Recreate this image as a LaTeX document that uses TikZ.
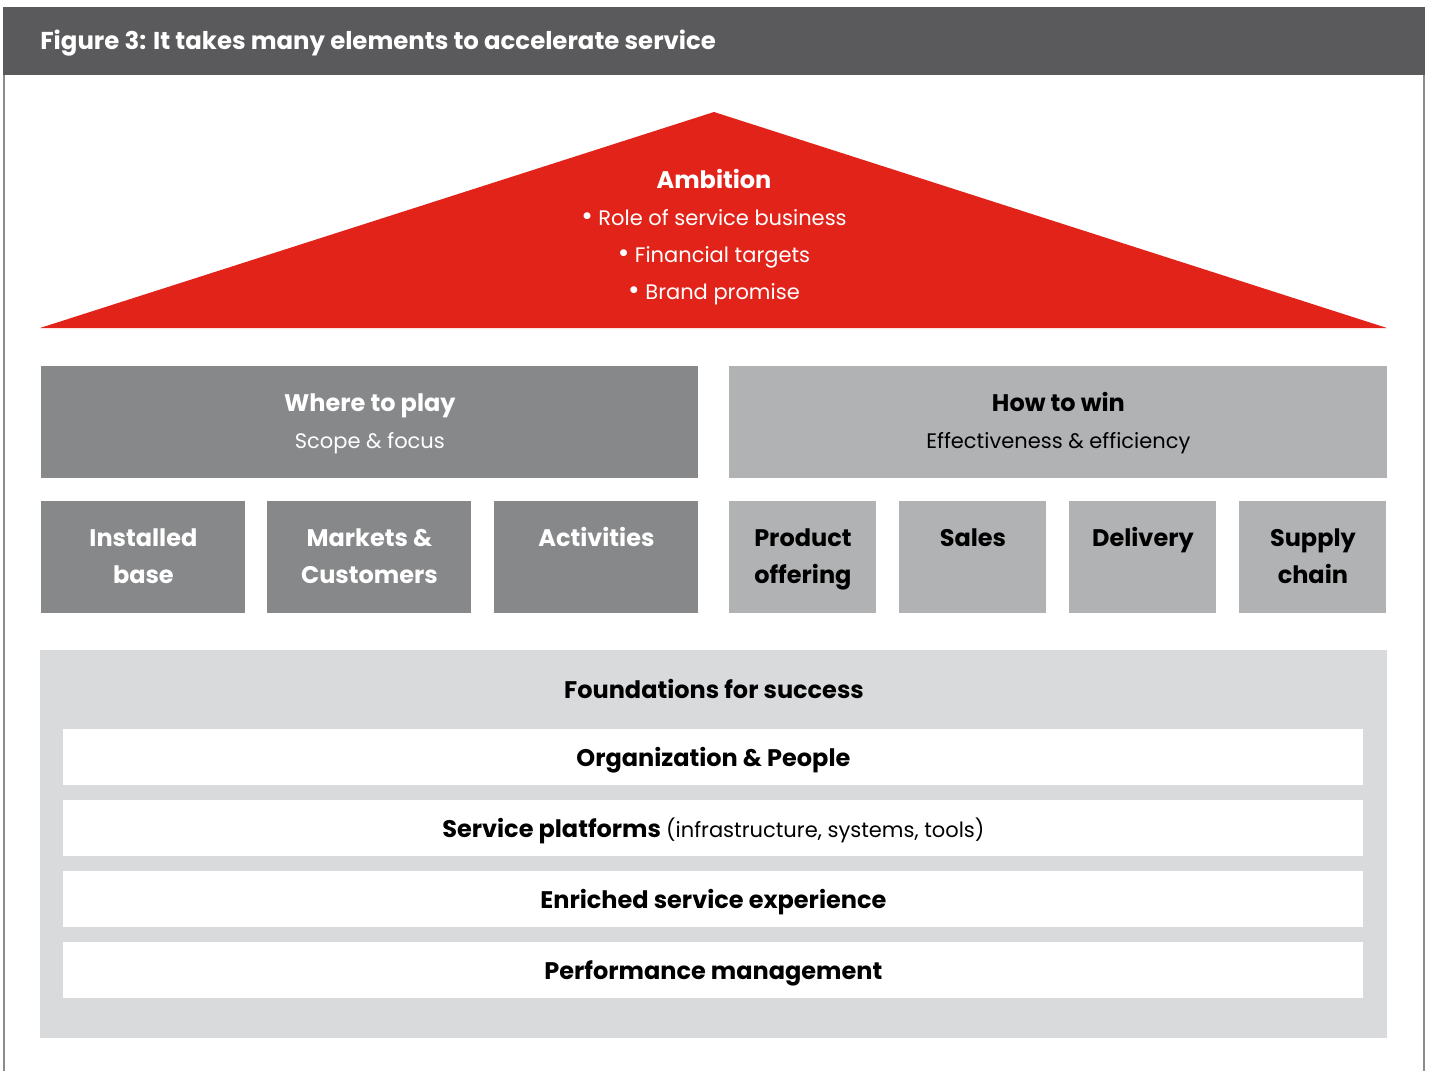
\documentclass[tikz,border=0pt]{standalone}
\usepackage{fontspec}
\setmainfont{Poppins}
\usepackage{tikz}

\definecolor{headgrey}{HTML}{5A5A5C}
\definecolor{ambred}{HTML}{E2231A}
\definecolor{darkgrey}{HTML}{87888A}
\definecolor{lightgrey}{HTML}{B1B2B4}
\definecolor{basegrey}{HTML}{D9DADB}
\definecolor{edgegrey}{HTML}{8C8C8C}

\newcommand{\plain}{\fontsize{10.5}{18.5}\selectfont\mdseries}
\newcommand{\dotitem}{{\fontsize{14}{18.5}\selectfont\textbullet}\ }

\tikzset{
    darkbox/.style={fill=darkgrey, text=white, align=center, inner sep=0pt, anchor=north west, font=\fontsize{12}{18.5}\selectfont\bfseries},
    lightbox/.style={fill=lightgrey, text=black, align=center, inner sep=0pt, anchor=north west, font=\fontsize{12}{18.5}\selectfont\bfseries},
    bar/.style={fill=white, text=black, align=center, inner sep=0pt, anchor=north west, minimum width=650pt, minimum height=28pt, text height=12pt, text depth=3pt, font=\fontsize{12}{18.5}\selectfont\bfseries},
}

\begin{document}
\begin{tikzpicture}[x=0.5pt, y=-0.5pt]
    \useasboundingbox (0,0) rectangle (1432,1071);
    \coordinate (T1) at (714, 112); % apex
    \coordinate (T2) at (40, 328);
    \coordinate (T3) at (1387, 328);

    % frame
    \fill[headgrey] (3,7) rectangle (1425,75);
    \draw[edgegrey, line width=1pt] (4,75) -- (4,1071);
    \draw[edgegrey, line width=1pt] (1424,75) -- (1424,1071);
    \node[anchor=west, inner sep=0pt, text=white, font=\fontsize{12.2}{15}\selectfont\bfseries] (title) at (40,43) {Figure 3: It takes many elements to accelerate service};

    % roof
    \fill[ambred] (T1) -- (T2) -- (T3) -- cycle;
    \node[text=white, align=center, anchor=north, font=\fontsize{12}{18.5}\selectfont] (ambition) at (714,162)
        {\textbf{Ambition}\\ \plain\dotitem Role of service business\\ \plain\dotitem Financial targets\\ \plain\dotitem Brand promise};

    % strategy boxes
    \node[darkbox, minimum width=328.5pt, minimum height=56pt] (play) at (41,366) {\strut Where to play\\ \plain Scope \& focus\strut};
    \node[lightbox, minimum width=329pt, minimum height=56pt] (win) at (729,366) {\strut How to win\\ \plain Effectiveness \& efficiency\strut};

    \node[darkbox, minimum width=102pt, minimum height=56pt] (installed) at (41,501) {\strut Installed\\ base\strut};
    \node[darkbox, minimum width=102pt, minimum height=56pt] (markets) at (267,501) {\strut Markets \&\\ Customers\strut};
    \node[darkbox, minimum width=102pt, minimum height=56pt] (activities) at (494,501) {\strut Activities\\ \strut};
    \node[lightbox, minimum width=73.5pt, minimum height=56pt] (product) at (729,501) {\strut Product\\ offering\strut};
    \node[lightbox, minimum width=73.5pt, minimum height=56pt] (sales) at (899,501) {\strut Sales\\ \strut};
    \node[lightbox, minimum width=73.5pt, minimum height=56pt] (delivery) at (1069,501) {\strut Delivery\\ \strut};
    \node[lightbox, minimum width=73.5pt, minimum height=56pt] (supply) at (1239,501) {\strut Supply\\ chain\strut};

    % foundations
    \fill[basegrey] (40,650) rectangle (1387,1038);
    \node[font=\fontsize{12}{18.5}\selectfont\bfseries] (found) at (714,691) {\strut Foundations for success};
    \node[bar] (org) at (63,729) {Organization \& People};
    \node[bar] (platforms) at (63,800) {Service platforms {\plain(infrastructure, systems, tools)}};
    \node[bar] (enriched) at (63,871) {Enriched service experience};
    \node[bar] (perf) at (63,942) {Performance management};
\end{tikzpicture}
\end{document}
